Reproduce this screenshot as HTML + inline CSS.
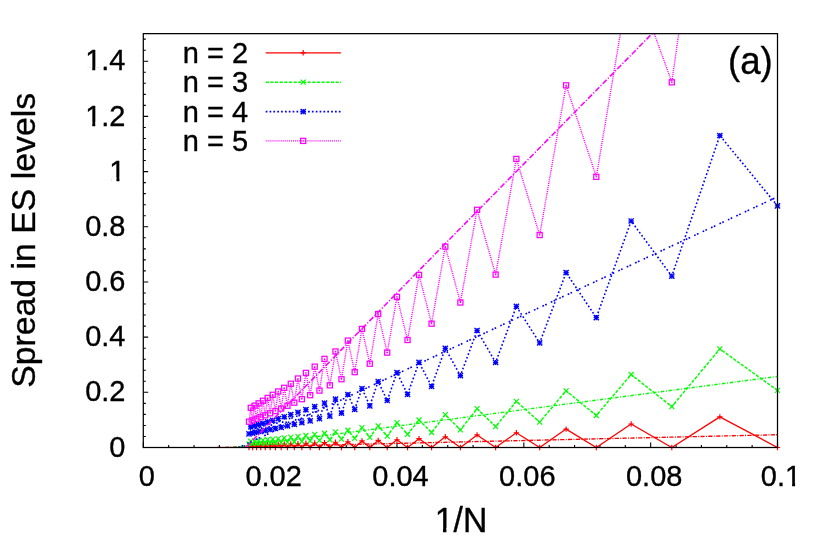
<!DOCTYPE html>
<html><head><meta charset="utf-8"><title>Spread in ES levels</title>
<style>html,body{margin:0;padding:0;background:#fff;}svg{display:block;will-change:transform;}text{font-family:"Liberation Sans",sans-serif;fill:#000;stroke:#000;stroke-width:0.35px;stroke-linejoin:round;}</style>
</head><body>
<svg width="830" height="541" viewBox="0 0 830 541">
<rect x="0" y="0" width="830" height="541" fill="#fff"/>
<defs><clipPath id="pc"><rect x="143.30" y="33.65" width="634.20" height="413.85"/></clipPath></defs>
<path d="M143.30 447.50h4.9M143.30 436.46h2.5M143.30 425.43h2.5M143.30 414.39h2.5M143.30 403.36h2.5M143.30 392.32h4.9M143.30 381.28h2.5M143.30 370.25h2.5M143.30 359.21h2.5M143.30 348.18h2.5M143.30 337.14h4.9M143.30 326.10h2.5M143.30 315.07h2.5M143.30 304.03h2.5M143.30 293.00h2.5M143.30 281.96h4.9M143.30 270.92h2.5M143.30 259.89h2.5M143.30 248.85h2.5M143.30 237.82h2.5M143.30 226.78h4.9M143.30 215.74h2.5M143.30 204.71h2.5M143.30 193.67h2.5M143.30 182.64h2.5M143.30 171.60h4.9M143.30 160.56h2.5M143.30 149.53h2.5M143.30 138.49h2.5M143.30 127.46h2.5M143.30 116.42h4.9M143.30 105.38h2.5M143.30 94.35h2.5M143.30 83.31h2.5M143.30 72.28h2.5M143.30 61.24h4.9M143.30 50.20h2.5M143.30 39.17h2.5M143.30 447.50v-4.9M168.67 447.50v-2.5M194.04 447.50v-2.5M219.40 447.50v-2.5M244.77 447.50v-2.5M270.14 447.50v-4.9M295.51 447.50v-2.5M320.88 447.50v-2.5M346.24 447.50v-2.5M371.61 447.50v-2.5M396.98 447.50v-4.9M422.35 447.50v-2.5M447.72 447.50v-2.5M473.08 447.50v-2.5M498.45 447.50v-2.5M523.82 447.50v-4.9M549.19 447.50v-2.5M574.56 447.50v-2.5M599.92 447.50v-2.5M625.29 447.50v-2.5M650.66 447.50v-4.9M676.03 447.50v-2.5M701.40 447.50v-2.5M726.76 447.50v-2.5M752.13 447.50v-2.5M777.50 447.50v-4.9" stroke="#000" stroke-width="1.1" fill="none"/>
<g clip-path="url(#pc)" fill="none" stroke-linejoin="round">
<polyline points="777.50,447.50 719.85,416.83 671.80,447.50 631.15,424.03 596.30,447.50 566.10,429.08 539.67,447.50 516.36,432.77 495.63,447.50 477.09,434.92 460.40,447.50 445.30,436.71 431.57,447.50 419.04,438.67 407.55,447.50 396.98,439.77 387.22,447.50 378.19,440.43 369.80,447.50 361.99,440.90 354.70,447.50 347.88,441.79 341.49,447.50 335.48,442.25 329.83,447.50 324.50,442.66 319.47,447.50 314.71,443.01 310.19,447.50 305.92,443.32 301.85,447.50 297.98,443.60 294.30,447.50 290.79,443.84 287.44,447.50 284.23,444.06 281.17,447.50 278.24,444.26 275.43,447.50 272.73,444.44 270.14,447.50 267.65,444.60 265.26,447.50 262.96,444.75 260.74,447.50 258.61,444.88 256.55,447.50 254.56,445.01 252.64,447.50 250.79,445.12 249.00,447.50" stroke="#ff0000" stroke-width="1.3"/>
<polyline points="777.50,390.42 719.85,348.90 671.80,406.61 631.15,374.51 596.30,415.48 566.10,390.81 539.67,422.10 516.36,401.31 495.63,426.57 477.09,408.70 460.40,429.85 445.30,414.66 431.57,432.49 419.04,420.03 407.55,434.23 396.98,422.71 387.22,436.05 378.19,425.82 369.80,437.32 361.99,427.59 354.70,438.42 347.88,430.23 341.49,439.09 335.48,431.86 329.83,439.77 324.50,433.25 319.47,440.37 314.71,434.45 310.19,440.89 305.92,435.49 301.85,441.35 297.98,436.41 294.30,441.76 290.79,437.21 287.44,442.12 284.23,437.92 281.17,442.44 278.24,438.56 275.43,442.74 272.73,439.13 270.14,443.00 267.65,439.64 265.26,443.24 262.96,440.11 260.74,443.46 258.61,440.53 256.55,443.66 254.56,440.91 252.64,443.85 250.79,441.26 249.00,444.02" stroke="#00ff00" stroke-width="1.5" stroke-dasharray="3.2 1.45"/>
<polyline points="777.50,205.81 719.85,135.51 671.80,276.12 631.15,220.98 596.30,317.69 566.10,272.62 539.67,342.89 516.36,306.39 495.63,362.49 477.09,330.49 460.40,375.70 445.30,348.35 431.57,386.31 419.04,362.41 407.55,394.31 396.98,372.61 387.22,400.51 378.19,381.49 369.80,405.81 361.99,388.49 354.70,409.39 347.88,394.50 341.49,413.20 335.48,399.13 329.83,416.11 324.50,403.11 319.47,418.62 314.71,406.57 310.19,420.82 305.92,409.59 301.85,422.75 297.98,412.26 294.30,424.45 290.79,414.63 287.44,425.97 284.23,416.74 281.17,427.32 278.24,418.63 275.43,428.54 272.73,420.34 270.14,429.64 267.65,421.88 265.26,430.63 262.96,423.28 260.74,431.54 258.61,424.55 256.55,432.37 254.56,425.72 252.64,433.12 250.79,426.79 249.00,433.82" stroke="#0000ff" stroke-width="1.6" stroke-dasharray="1.7 2.15"/>
<polyline points="777.50,-54.36 719.85,-256.54 671.80,82.30 631.15,-30.46 596.30,176.86 566.10,85.33 539.67,235.04 516.36,158.94 495.63,274.60 477.09,209.81 460.40,302.50 445.30,246.62 431.57,323.70 419.04,274.90 407.55,340.00 396.98,296.90 387.22,352.62 378.19,314.00 369.80,363.71 361.99,328.91 354.70,372.12 347.88,340.60 341.49,379.23 335.48,351.49 329.83,385.34 324.50,358.88 319.47,390.60 314.71,366.66 310.19,395.17 305.92,372.90 301.85,399.16 297.98,378.52 294.30,402.68 290.79,383.79 287.44,405.79 284.23,387.80 281.17,408.56 278.24,391.48 275.43,411.04 272.73,394.80 270.14,413.27 267.65,397.95 265.26,415.29 262.96,400.79 260.74,417.12 258.61,403.34 256.55,418.78 254.56,405.66 252.64,420.30 250.79,407.79 249.00,421.69" stroke="#ff00ff" stroke-width="1.4" stroke-dasharray="1.0 0.95"/>
</g>
<g><path d="M774.80 447.50H780.20M777.50 444.80V450.20" stroke="#ff0000" stroke-width="1.15" fill="none"/><path d="M717.15 416.83H722.55M719.85 414.13V419.53" stroke="#ff0000" stroke-width="1.15" fill="none"/><path d="M669.10 447.50H674.50M671.80 444.80V450.20" stroke="#ff0000" stroke-width="1.15" fill="none"/><path d="M628.45 424.03H633.85M631.15 421.33V426.73" stroke="#ff0000" stroke-width="1.15" fill="none"/><path d="M593.60 447.50H599.00M596.30 444.80V450.20" stroke="#ff0000" stroke-width="1.15" fill="none"/><path d="M563.40 429.08H568.80M566.10 426.38V431.78" stroke="#ff0000" stroke-width="1.15" fill="none"/><path d="M536.97 447.50H542.38M539.67 444.80V450.20" stroke="#ff0000" stroke-width="1.15" fill="none"/><path d="M513.66 432.77H519.06M516.36 430.07V435.47" stroke="#ff0000" stroke-width="1.15" fill="none"/><path d="M492.93 447.50H498.33M495.63 444.80V450.20" stroke="#ff0000" stroke-width="1.15" fill="none"/><path d="M474.39 434.92H479.79M477.09 432.22V437.62" stroke="#ff0000" stroke-width="1.15" fill="none"/><path d="M457.70 447.50H463.10M460.40 444.80V450.20" stroke="#ff0000" stroke-width="1.15" fill="none"/><path d="M442.60 436.71H448.00M445.30 434.01V439.41" stroke="#ff0000" stroke-width="1.15" fill="none"/><path d="M428.87 447.50H434.27M431.57 444.80V450.20" stroke="#ff0000" stroke-width="1.15" fill="none"/><path d="M416.34 438.67H421.74M419.04 435.97V441.37" stroke="#ff0000" stroke-width="1.15" fill="none"/><path d="M404.85 447.50H410.25M407.55 444.80V450.20" stroke="#ff0000" stroke-width="1.15" fill="none"/><path d="M394.28 439.77H399.68M396.98 437.07V442.47" stroke="#ff0000" stroke-width="1.15" fill="none"/><path d="M384.52 447.50H389.92M387.22 444.80V450.20" stroke="#ff0000" stroke-width="1.15" fill="none"/><path d="M375.49 440.43H380.89M378.19 437.73V443.13" stroke="#ff0000" stroke-width="1.15" fill="none"/><path d="M367.10 447.50H372.50M369.80 444.80V450.20" stroke="#ff0000" stroke-width="1.15" fill="none"/><path d="M359.29 440.90H364.69M361.99 438.20V443.60" stroke="#ff0000" stroke-width="1.15" fill="none"/><path d="M352.00 447.50H357.40M354.70 444.80V450.20" stroke="#ff0000" stroke-width="1.15" fill="none"/><path d="M345.18 441.79H350.58M347.88 439.09V444.49" stroke="#ff0000" stroke-width="1.15" fill="none"/><path d="M338.79 447.50H344.19M341.49 444.80V450.20" stroke="#ff0000" stroke-width="1.15" fill="none"/><path d="M332.78 442.25H338.18M335.48 439.55V444.95" stroke="#ff0000" stroke-width="1.15" fill="none"/><path d="M327.13 447.50H332.53M329.83 444.80V450.20" stroke="#ff0000" stroke-width="1.15" fill="none"/><path d="M321.80 442.66H327.20M324.50 439.96V445.36" stroke="#ff0000" stroke-width="1.15" fill="none"/><path d="M316.77 447.50H322.17M319.47 444.80V450.20" stroke="#ff0000" stroke-width="1.15" fill="none"/><path d="M312.01 443.01H317.41M314.71 440.31V445.71" stroke="#ff0000" stroke-width="1.15" fill="none"/><path d="M307.49 447.50H312.89M310.19 444.80V450.20" stroke="#ff0000" stroke-width="1.15" fill="none"/><path d="M303.22 443.32H308.62M305.92 440.62V446.02" stroke="#ff0000" stroke-width="1.15" fill="none"/><path d="M299.15 447.50H304.55M301.85 444.80V450.20" stroke="#ff0000" stroke-width="1.15" fill="none"/><path d="M295.28 443.60H300.68M297.98 440.90V446.30" stroke="#ff0000" stroke-width="1.15" fill="none"/><path d="M291.60 447.50H297.00M294.30 444.80V450.20" stroke="#ff0000" stroke-width="1.15" fill="none"/><path d="M288.09 443.84H293.49M290.79 441.14V446.54" stroke="#ff0000" stroke-width="1.15" fill="none"/><path d="M284.74 447.50H290.14M287.44 444.80V450.20" stroke="#ff0000" stroke-width="1.15" fill="none"/><path d="M281.53 444.06H286.93M284.23 441.36V446.76" stroke="#ff0000" stroke-width="1.15" fill="none"/><path d="M278.47 447.50H283.87M281.17 444.80V450.20" stroke="#ff0000" stroke-width="1.15" fill="none"/><path d="M275.54 444.26H280.94M278.24 441.56V446.96" stroke="#ff0000" stroke-width="1.15" fill="none"/><path d="M272.73 447.50H278.12M275.43 444.80V450.20" stroke="#ff0000" stroke-width="1.15" fill="none"/><path d="M270.03 444.44H275.43M272.73 441.74V447.14" stroke="#ff0000" stroke-width="1.15" fill="none"/><path d="M267.44 447.50H272.84M270.14 444.80V450.20" stroke="#ff0000" stroke-width="1.15" fill="none"/><path d="M264.95 444.60H270.35M267.65 441.90V447.30" stroke="#ff0000" stroke-width="1.15" fill="none"/><path d="M262.56 447.50H267.96M265.26 444.80V450.20" stroke="#ff0000" stroke-width="1.15" fill="none"/><path d="M260.26 444.75H265.66M262.96 442.05V447.45" stroke="#ff0000" stroke-width="1.15" fill="none"/><path d="M258.04 447.50H263.44M260.74 444.80V450.20" stroke="#ff0000" stroke-width="1.15" fill="none"/><path d="M255.91 444.88H261.31M258.61 442.18V447.58" stroke="#ff0000" stroke-width="1.15" fill="none"/><path d="M253.85 447.50H259.25M256.55 444.80V450.20" stroke="#ff0000" stroke-width="1.15" fill="none"/><path d="M251.86 445.01H257.26M254.56 442.31V447.71" stroke="#ff0000" stroke-width="1.15" fill="none"/><path d="M249.94 447.50H255.34M252.64 444.80V450.20" stroke="#ff0000" stroke-width="1.15" fill="none"/><path d="M248.09 445.12H253.49M250.79 442.42V447.82" stroke="#ff0000" stroke-width="1.15" fill="none"/><path d="M246.30 447.50H251.70M249.00 444.80V450.20" stroke="#ff0000" stroke-width="1.15" fill="none"/></g>
<g><path d="M775.00 387.92L780.00 392.92M775.00 392.92L780.00 387.92" stroke="#00ff00" stroke-width="1.15" fill="none"/><path d="M717.35 346.40L722.35 351.40M717.35 351.40L722.35 346.40" stroke="#00ff00" stroke-width="1.15" fill="none"/><path d="M669.30 404.11L674.30 409.11M669.30 409.11L674.30 404.11" stroke="#00ff00" stroke-width="1.15" fill="none"/><path d="M628.65 372.01L633.65 377.01M628.65 377.01L633.65 372.01" stroke="#00ff00" stroke-width="1.15" fill="none"/><path d="M593.80 412.98L598.80 417.98M593.80 417.98L598.80 412.98" stroke="#00ff00" stroke-width="1.15" fill="none"/><path d="M563.60 388.31L568.60 393.31M563.60 393.31L568.60 388.31" stroke="#00ff00" stroke-width="1.15" fill="none"/><path d="M537.17 419.60L542.17 424.60M537.17 424.60L542.17 419.60" stroke="#00ff00" stroke-width="1.15" fill="none"/><path d="M513.86 398.81L518.86 403.81M513.86 403.81L518.86 398.81" stroke="#00ff00" stroke-width="1.15" fill="none"/><path d="M493.13 424.07L498.13 429.07M493.13 429.07L498.13 424.07" stroke="#00ff00" stroke-width="1.15" fill="none"/><path d="M474.59 406.20L479.59 411.20M474.59 411.20L479.59 406.20" stroke="#00ff00" stroke-width="1.15" fill="none"/><path d="M457.90 427.35L462.90 432.35M457.90 432.35L462.90 427.35" stroke="#00ff00" stroke-width="1.15" fill="none"/><path d="M442.80 412.16L447.80 417.16M442.80 417.16L447.80 412.16" stroke="#00ff00" stroke-width="1.15" fill="none"/><path d="M429.07 429.99L434.07 434.99M429.07 434.99L434.07 429.99" stroke="#00ff00" stroke-width="1.15" fill="none"/><path d="M416.54 417.53L421.54 422.53M416.54 422.53L421.54 417.53" stroke="#00ff00" stroke-width="1.15" fill="none"/><path d="M405.05 431.73L410.05 436.73M405.05 436.73L410.05 431.73" stroke="#00ff00" stroke-width="1.15" fill="none"/><path d="M394.48 420.21L399.48 425.21M394.48 425.21L399.48 420.21" stroke="#00ff00" stroke-width="1.15" fill="none"/><path d="M384.72 433.55L389.72 438.55M384.72 438.55L389.72 433.55" stroke="#00ff00" stroke-width="1.15" fill="none"/><path d="M375.69 423.32L380.69 428.32M375.69 428.32L380.69 423.32" stroke="#00ff00" stroke-width="1.15" fill="none"/><path d="M367.30 434.82L372.30 439.82M367.30 439.82L372.30 434.82" stroke="#00ff00" stroke-width="1.15" fill="none"/><path d="M359.49 425.09L364.49 430.09M359.49 430.09L364.49 425.09" stroke="#00ff00" stroke-width="1.15" fill="none"/><path d="M352.20 435.92L357.20 440.92M352.20 440.92L357.20 435.92" stroke="#00ff00" stroke-width="1.15" fill="none"/><path d="M345.38 427.73L350.38 432.73M345.38 432.73L350.38 427.73" stroke="#00ff00" stroke-width="1.15" fill="none"/><path d="M338.99 436.59L343.99 441.59M338.99 441.59L343.99 436.59" stroke="#00ff00" stroke-width="1.15" fill="none"/><path d="M332.98 429.36L337.98 434.36M332.98 434.36L337.98 429.36" stroke="#00ff00" stroke-width="1.15" fill="none"/><path d="M327.33 437.27L332.33 442.27M327.33 442.27L332.33 437.27" stroke="#00ff00" stroke-width="1.15" fill="none"/><path d="M322.00 430.75L327.00 435.75M322.00 435.75L327.00 430.75" stroke="#00ff00" stroke-width="1.15" fill="none"/><path d="M316.97 437.87L321.97 442.87M316.97 442.87L321.97 437.87" stroke="#00ff00" stroke-width="1.15" fill="none"/><path d="M312.21 431.95L317.21 436.95M312.21 436.95L317.21 431.95" stroke="#00ff00" stroke-width="1.15" fill="none"/><path d="M307.69 438.39L312.69 443.39M307.69 443.39L312.69 438.39" stroke="#00ff00" stroke-width="1.15" fill="none"/><path d="M303.42 432.99L308.42 437.99M303.42 437.99L308.42 432.99" stroke="#00ff00" stroke-width="1.15" fill="none"/><path d="M299.35 438.85L304.35 443.85M299.35 443.85L304.35 438.85" stroke="#00ff00" stroke-width="1.15" fill="none"/><path d="M295.48 433.91L300.48 438.91M295.48 438.91L300.48 433.91" stroke="#00ff00" stroke-width="1.15" fill="none"/><path d="M291.80 439.26L296.80 444.26M291.80 444.26L296.80 439.26" stroke="#00ff00" stroke-width="1.15" fill="none"/><path d="M288.29 434.71L293.29 439.71M288.29 439.71L293.29 434.71" stroke="#00ff00" stroke-width="1.15" fill="none"/><path d="M284.94 439.62L289.94 444.62M284.94 444.62L289.94 439.62" stroke="#00ff00" stroke-width="1.15" fill="none"/><path d="M281.73 435.42L286.73 440.42M281.73 440.42L286.73 435.42" stroke="#00ff00" stroke-width="1.15" fill="none"/><path d="M278.67 439.94L283.67 444.94M278.67 444.94L283.67 439.94" stroke="#00ff00" stroke-width="1.15" fill="none"/><path d="M275.74 436.06L280.74 441.06M275.74 441.06L280.74 436.06" stroke="#00ff00" stroke-width="1.15" fill="none"/><path d="M272.93 440.24L277.93 445.24M272.93 445.24L277.93 440.24" stroke="#00ff00" stroke-width="1.15" fill="none"/><path d="M270.23 436.63L275.23 441.63M270.23 441.63L275.23 436.63" stroke="#00ff00" stroke-width="1.15" fill="none"/><path d="M267.64 440.50L272.64 445.50M267.64 445.50L272.64 440.50" stroke="#00ff00" stroke-width="1.15" fill="none"/><path d="M265.15 437.14L270.15 442.14M265.15 442.14L270.15 437.14" stroke="#00ff00" stroke-width="1.15" fill="none"/><path d="M262.76 440.74L267.76 445.74M262.76 445.74L267.76 440.74" stroke="#00ff00" stroke-width="1.15" fill="none"/><path d="M260.46 437.61L265.46 442.61M260.46 442.61L265.46 437.61" stroke="#00ff00" stroke-width="1.15" fill="none"/><path d="M258.24 440.96L263.24 445.96M258.24 445.96L263.24 440.96" stroke="#00ff00" stroke-width="1.15" fill="none"/><path d="M256.11 438.03L261.11 443.03M256.11 443.03L261.11 438.03" stroke="#00ff00" stroke-width="1.15" fill="none"/><path d="M254.05 441.16L259.05 446.16M254.05 446.16L259.05 441.16" stroke="#00ff00" stroke-width="1.15" fill="none"/><path d="M252.06 438.41L257.06 443.41M252.06 443.41L257.06 438.41" stroke="#00ff00" stroke-width="1.15" fill="none"/><path d="M250.14 441.35L255.14 446.35M250.14 446.35L255.14 441.35" stroke="#00ff00" stroke-width="1.15" fill="none"/><path d="M248.29 438.76L253.29 443.76M248.29 443.76L253.29 438.76" stroke="#00ff00" stroke-width="1.15" fill="none"/><path d="M246.50 441.52L251.50 446.52M246.50 446.52L251.50 441.52" stroke="#00ff00" stroke-width="1.15" fill="none"/></g>
<g><path d="M774.90 205.81H780.10M777.50 203.21V208.41" stroke="#0000ff" stroke-width="1.35" fill="none"/><path d="M774.90 203.21L780.10 208.41M774.90 208.41L780.10 203.21" stroke="#0000ff" stroke-width="1.35" fill="none"/><path d="M717.25 135.51H722.45M719.85 132.91V138.11" stroke="#0000ff" stroke-width="1.35" fill="none"/><path d="M717.25 132.91L722.45 138.11M717.25 138.11L722.45 132.91" stroke="#0000ff" stroke-width="1.35" fill="none"/><path d="M669.20 276.12H674.40M671.80 273.52V278.72" stroke="#0000ff" stroke-width="1.35" fill="none"/><path d="M669.20 273.52L674.40 278.72M669.20 278.72L674.40 273.52" stroke="#0000ff" stroke-width="1.35" fill="none"/><path d="M628.55 220.98H633.75M631.15 218.38V223.58" stroke="#0000ff" stroke-width="1.35" fill="none"/><path d="M628.55 218.38L633.75 223.58M628.55 223.58L633.75 218.38" stroke="#0000ff" stroke-width="1.35" fill="none"/><path d="M593.70 317.69H598.90M596.30 315.09V320.29" stroke="#0000ff" stroke-width="1.35" fill="none"/><path d="M593.70 315.09L598.90 320.29M593.70 320.29L598.90 315.09" stroke="#0000ff" stroke-width="1.35" fill="none"/><path d="M563.50 272.62H568.70M566.10 270.02V275.22" stroke="#0000ff" stroke-width="1.35" fill="none"/><path d="M563.50 270.02L568.70 275.22M563.50 275.22L568.70 270.02" stroke="#0000ff" stroke-width="1.35" fill="none"/><path d="M537.07 342.89H542.27M539.67 340.29V345.49" stroke="#0000ff" stroke-width="1.35" fill="none"/><path d="M537.07 340.29L542.27 345.49M537.07 345.49L542.27 340.29" stroke="#0000ff" stroke-width="1.35" fill="none"/><path d="M513.76 306.39H518.96M516.36 303.79V308.99" stroke="#0000ff" stroke-width="1.35" fill="none"/><path d="M513.76 303.79L518.96 308.99M513.76 308.99L518.96 303.79" stroke="#0000ff" stroke-width="1.35" fill="none"/><path d="M493.03 362.49H498.23M495.63 359.89V365.09" stroke="#0000ff" stroke-width="1.35" fill="none"/><path d="M493.03 359.89L498.23 365.09M493.03 365.09L498.23 359.89" stroke="#0000ff" stroke-width="1.35" fill="none"/><path d="M474.49 330.49H479.69M477.09 327.89V333.09" stroke="#0000ff" stroke-width="1.35" fill="none"/><path d="M474.49 327.89L479.69 333.09M474.49 333.09L479.69 327.89" stroke="#0000ff" stroke-width="1.35" fill="none"/><path d="M457.80 375.70H463.00M460.40 373.10V378.30" stroke="#0000ff" stroke-width="1.35" fill="none"/><path d="M457.80 373.10L463.00 378.30M457.80 378.30L463.00 373.10" stroke="#0000ff" stroke-width="1.35" fill="none"/><path d="M442.70 348.35H447.90M445.30 345.75V350.95" stroke="#0000ff" stroke-width="1.35" fill="none"/><path d="M442.70 345.75L447.90 350.95M442.70 350.95L447.90 345.75" stroke="#0000ff" stroke-width="1.35" fill="none"/><path d="M428.97 386.31H434.17M431.57 383.71V388.91" stroke="#0000ff" stroke-width="1.35" fill="none"/><path d="M428.97 383.71L434.17 388.91M428.97 388.91L434.17 383.71" stroke="#0000ff" stroke-width="1.35" fill="none"/><path d="M416.44 362.41H421.64M419.04 359.81V365.01" stroke="#0000ff" stroke-width="1.35" fill="none"/><path d="M416.44 359.81L421.64 365.01M416.44 365.01L421.64 359.81" stroke="#0000ff" stroke-width="1.35" fill="none"/><path d="M404.95 394.31H410.15M407.55 391.71V396.91" stroke="#0000ff" stroke-width="1.35" fill="none"/><path d="M404.95 391.71L410.15 396.91M404.95 396.91L410.15 391.71" stroke="#0000ff" stroke-width="1.35" fill="none"/><path d="M394.38 372.61H399.58M396.98 370.01V375.21" stroke="#0000ff" stroke-width="1.35" fill="none"/><path d="M394.38 370.01L399.58 375.21M394.38 375.21L399.58 370.01" stroke="#0000ff" stroke-width="1.35" fill="none"/><path d="M384.62 400.51H389.82M387.22 397.91V403.11" stroke="#0000ff" stroke-width="1.35" fill="none"/><path d="M384.62 397.91L389.82 403.11M384.62 403.11L389.82 397.91" stroke="#0000ff" stroke-width="1.35" fill="none"/><path d="M375.59 381.49H380.79M378.19 378.89V384.09" stroke="#0000ff" stroke-width="1.35" fill="none"/><path d="M375.59 378.89L380.79 384.09M375.59 384.09L380.79 378.89" stroke="#0000ff" stroke-width="1.35" fill="none"/><path d="M367.20 405.81H372.40M369.80 403.21V408.41" stroke="#0000ff" stroke-width="1.35" fill="none"/><path d="M367.20 403.21L372.40 408.41M367.20 408.41L372.40 403.21" stroke="#0000ff" stroke-width="1.35" fill="none"/><path d="M359.39 388.49H364.59M361.99 385.89V391.09" stroke="#0000ff" stroke-width="1.35" fill="none"/><path d="M359.39 385.89L364.59 391.09M359.39 391.09L364.59 385.89" stroke="#0000ff" stroke-width="1.35" fill="none"/><path d="M352.10 409.39H357.30M354.70 406.79V411.99" stroke="#0000ff" stroke-width="1.35" fill="none"/><path d="M352.10 406.79L357.30 411.99M352.10 411.99L357.30 406.79" stroke="#0000ff" stroke-width="1.35" fill="none"/><path d="M345.28 394.50H350.48M347.88 391.90V397.10" stroke="#0000ff" stroke-width="1.35" fill="none"/><path d="M345.28 391.90L350.48 397.10M345.28 397.10L350.48 391.90" stroke="#0000ff" stroke-width="1.35" fill="none"/><path d="M338.89 413.20H344.09M341.49 410.60V415.80" stroke="#0000ff" stroke-width="1.35" fill="none"/><path d="M338.89 410.60L344.09 415.80M338.89 415.80L344.09 410.60" stroke="#0000ff" stroke-width="1.35" fill="none"/><path d="M332.88 399.13H338.08M335.48 396.53V401.73" stroke="#0000ff" stroke-width="1.35" fill="none"/><path d="M332.88 396.53L338.08 401.73M332.88 401.73L338.08 396.53" stroke="#0000ff" stroke-width="1.35" fill="none"/><path d="M327.23 416.11H332.43M329.83 413.51V418.71" stroke="#0000ff" stroke-width="1.35" fill="none"/><path d="M327.23 413.51L332.43 418.71M327.23 418.71L332.43 413.51" stroke="#0000ff" stroke-width="1.35" fill="none"/><path d="M321.90 403.11H327.10M324.50 400.51V405.71" stroke="#0000ff" stroke-width="1.35" fill="none"/><path d="M321.90 400.51L327.10 405.71M321.90 405.71L327.10 400.51" stroke="#0000ff" stroke-width="1.35" fill="none"/><path d="M316.87 418.62H322.07M319.47 416.02V421.22" stroke="#0000ff" stroke-width="1.35" fill="none"/><path d="M316.87 416.02L322.07 421.22M316.87 421.22L322.07 416.02" stroke="#0000ff" stroke-width="1.35" fill="none"/><path d="M312.11 406.57H317.31M314.71 403.97V409.17" stroke="#0000ff" stroke-width="1.35" fill="none"/><path d="M312.11 403.97L317.31 409.17M312.11 409.17L317.31 403.97" stroke="#0000ff" stroke-width="1.35" fill="none"/><path d="M307.59 420.82H312.79M310.19 418.22V423.42" stroke="#0000ff" stroke-width="1.35" fill="none"/><path d="M307.59 418.22L312.79 423.42M307.59 423.42L312.79 418.22" stroke="#0000ff" stroke-width="1.35" fill="none"/><path d="M303.32 409.59H308.52M305.92 406.99V412.19" stroke="#0000ff" stroke-width="1.35" fill="none"/><path d="M303.32 406.99L308.52 412.19M303.32 412.19L308.52 406.99" stroke="#0000ff" stroke-width="1.35" fill="none"/><path d="M299.25 422.75H304.45M301.85 420.15V425.35" stroke="#0000ff" stroke-width="1.35" fill="none"/><path d="M299.25 420.15L304.45 425.35M299.25 425.35L304.45 420.15" stroke="#0000ff" stroke-width="1.35" fill="none"/><path d="M295.38 412.26H300.58M297.98 409.66V414.86" stroke="#0000ff" stroke-width="1.35" fill="none"/><path d="M295.38 409.66L300.58 414.86M295.38 414.86L300.58 409.66" stroke="#0000ff" stroke-width="1.35" fill="none"/><path d="M291.70 424.45H296.90M294.30 421.85V427.05" stroke="#0000ff" stroke-width="1.35" fill="none"/><path d="M291.70 421.85L296.90 427.05M291.70 427.05L296.90 421.85" stroke="#0000ff" stroke-width="1.35" fill="none"/><path d="M288.19 414.63H293.39M290.79 412.03V417.23" stroke="#0000ff" stroke-width="1.35" fill="none"/><path d="M288.19 412.03L293.39 417.23M288.19 417.23L293.39 412.03" stroke="#0000ff" stroke-width="1.35" fill="none"/><path d="M284.84 425.97H290.04M287.44 423.37V428.57" stroke="#0000ff" stroke-width="1.35" fill="none"/><path d="M284.84 423.37L290.04 428.57M284.84 428.57L290.04 423.37" stroke="#0000ff" stroke-width="1.35" fill="none"/><path d="M281.63 416.74H286.83M284.23 414.14V419.34" stroke="#0000ff" stroke-width="1.35" fill="none"/><path d="M281.63 414.14L286.83 419.34M281.63 419.34L286.83 414.14" stroke="#0000ff" stroke-width="1.35" fill="none"/><path d="M278.57 427.32H283.77M281.17 424.72V429.92" stroke="#0000ff" stroke-width="1.35" fill="none"/><path d="M278.57 424.72L283.77 429.92M278.57 429.92L283.77 424.72" stroke="#0000ff" stroke-width="1.35" fill="none"/><path d="M275.64 418.63H280.84M278.24 416.03V421.23" stroke="#0000ff" stroke-width="1.35" fill="none"/><path d="M275.64 416.03L280.84 421.23M275.64 421.23L280.84 416.03" stroke="#0000ff" stroke-width="1.35" fill="none"/><path d="M272.82 428.54H278.03M275.43 425.94V431.14" stroke="#0000ff" stroke-width="1.35" fill="none"/><path d="M272.82 425.94L278.03 431.14M272.82 431.14L278.03 425.94" stroke="#0000ff" stroke-width="1.35" fill="none"/><path d="M270.13 420.34H275.33M272.73 417.74V422.94" stroke="#0000ff" stroke-width="1.35" fill="none"/><path d="M270.13 417.74L275.33 422.94M270.13 422.94L275.33 417.74" stroke="#0000ff" stroke-width="1.35" fill="none"/><path d="M267.54 429.64H272.74M270.14 427.04V432.24" stroke="#0000ff" stroke-width="1.35" fill="none"/><path d="M267.54 427.04L272.74 432.24M267.54 432.24L272.74 427.04" stroke="#0000ff" stroke-width="1.35" fill="none"/><path d="M265.05 421.88H270.25M267.65 419.28V424.48" stroke="#0000ff" stroke-width="1.35" fill="none"/><path d="M265.05 419.28L270.25 424.48M265.05 424.48L270.25 419.28" stroke="#0000ff" stroke-width="1.35" fill="none"/><path d="M262.66 430.63H267.86M265.26 428.03V433.23" stroke="#0000ff" stroke-width="1.35" fill="none"/><path d="M262.66 428.03L267.86 433.23M262.66 433.23L267.86 428.03" stroke="#0000ff" stroke-width="1.35" fill="none"/><path d="M260.36 423.28H265.56M262.96 420.68V425.88" stroke="#0000ff" stroke-width="1.35" fill="none"/><path d="M260.36 420.68L265.56 425.88M260.36 425.88L265.56 420.68" stroke="#0000ff" stroke-width="1.35" fill="none"/><path d="M258.14 431.54H263.34M260.74 428.94V434.14" stroke="#0000ff" stroke-width="1.35" fill="none"/><path d="M258.14 428.94L263.34 434.14M258.14 434.14L263.34 428.94" stroke="#0000ff" stroke-width="1.35" fill="none"/><path d="M256.01 424.55H261.21M258.61 421.95V427.15" stroke="#0000ff" stroke-width="1.35" fill="none"/><path d="M256.01 421.95L261.21 427.15M256.01 427.15L261.21 421.95" stroke="#0000ff" stroke-width="1.35" fill="none"/><path d="M253.95 432.37H259.15M256.55 429.77V434.97" stroke="#0000ff" stroke-width="1.35" fill="none"/><path d="M253.95 429.77L259.15 434.97M253.95 434.97L259.15 429.77" stroke="#0000ff" stroke-width="1.35" fill="none"/><path d="M251.96 425.72H257.16M254.56 423.12V428.32" stroke="#0000ff" stroke-width="1.35" fill="none"/><path d="M251.96 423.12L257.16 428.32M251.96 428.32L257.16 423.12" stroke="#0000ff" stroke-width="1.35" fill="none"/><path d="M250.04 433.12H255.24M252.64 430.52V435.72" stroke="#0000ff" stroke-width="1.35" fill="none"/><path d="M250.04 430.52L255.24 435.72M250.04 435.72L255.24 430.52" stroke="#0000ff" stroke-width="1.35" fill="none"/><path d="M248.19 426.79H253.39M250.79 424.19V429.39" stroke="#0000ff" stroke-width="1.35" fill="none"/><path d="M248.19 424.19L253.39 429.39M248.19 429.39L253.39 424.19" stroke="#0000ff" stroke-width="1.35" fill="none"/><path d="M246.40 433.82H251.60M249.00 431.22V436.42" stroke="#0000ff" stroke-width="1.35" fill="none"/><path d="M246.40 431.22L251.60 436.42M246.40 436.42L251.60 431.22" stroke="#0000ff" stroke-width="1.35" fill="none"/></g>
<g><rect x="669.25" y="79.75" width="5.10" height="5.10" stroke="#ff00ff" stroke-width="1.25" fill="none"/><rect x="671.20" y="81.70" width="1.2" height="1.2" fill="#ff00ff"/><rect x="593.75" y="174.31" width="5.10" height="5.10" stroke="#ff00ff" stroke-width="1.25" fill="none"/><rect x="595.70" y="176.26" width="1.2" height="1.2" fill="#ff00ff"/><rect x="563.55" y="82.78" width="5.10" height="5.10" stroke="#ff00ff" stroke-width="1.25" fill="none"/><rect x="565.50" y="84.73" width="1.2" height="1.2" fill="#ff00ff"/><rect x="537.12" y="232.49" width="5.10" height="5.10" stroke="#ff00ff" stroke-width="1.25" fill="none"/><rect x="539.07" y="234.44" width="1.2" height="1.2" fill="#ff00ff"/><rect x="513.81" y="156.39" width="5.10" height="5.10" stroke="#ff00ff" stroke-width="1.25" fill="none"/><rect x="515.76" y="158.34" width="1.2" height="1.2" fill="#ff00ff"/><rect x="493.08" y="272.05" width="5.10" height="5.10" stroke="#ff00ff" stroke-width="1.25" fill="none"/><rect x="495.03" y="274.00" width="1.2" height="1.2" fill="#ff00ff"/><rect x="474.54" y="207.26" width="5.10" height="5.10" stroke="#ff00ff" stroke-width="1.25" fill="none"/><rect x="476.49" y="209.21" width="1.2" height="1.2" fill="#ff00ff"/><rect x="457.85" y="299.95" width="5.10" height="5.10" stroke="#ff00ff" stroke-width="1.25" fill="none"/><rect x="459.80" y="301.90" width="1.2" height="1.2" fill="#ff00ff"/><rect x="442.75" y="244.07" width="5.10" height="5.10" stroke="#ff00ff" stroke-width="1.25" fill="none"/><rect x="444.70" y="246.02" width="1.2" height="1.2" fill="#ff00ff"/><rect x="429.02" y="321.15" width="5.10" height="5.10" stroke="#ff00ff" stroke-width="1.25" fill="none"/><rect x="430.97" y="323.10" width="1.2" height="1.2" fill="#ff00ff"/><rect x="416.49" y="272.35" width="5.10" height="5.10" stroke="#ff00ff" stroke-width="1.25" fill="none"/><rect x="418.44" y="274.30" width="1.2" height="1.2" fill="#ff00ff"/><rect x="405.00" y="337.45" width="5.10" height="5.10" stroke="#ff00ff" stroke-width="1.25" fill="none"/><rect x="406.95" y="339.40" width="1.2" height="1.2" fill="#ff00ff"/><rect x="394.43" y="294.35" width="5.10" height="5.10" stroke="#ff00ff" stroke-width="1.25" fill="none"/><rect x="396.38" y="296.30" width="1.2" height="1.2" fill="#ff00ff"/><rect x="384.67" y="350.07" width="5.10" height="5.10" stroke="#ff00ff" stroke-width="1.25" fill="none"/><rect x="386.62" y="352.02" width="1.2" height="1.2" fill="#ff00ff"/><rect x="375.64" y="311.45" width="5.10" height="5.10" stroke="#ff00ff" stroke-width="1.25" fill="none"/><rect x="377.59" y="313.40" width="1.2" height="1.2" fill="#ff00ff"/><rect x="367.25" y="361.16" width="5.10" height="5.10" stroke="#ff00ff" stroke-width="1.25" fill="none"/><rect x="369.20" y="363.11" width="1.2" height="1.2" fill="#ff00ff"/><rect x="359.44" y="326.36" width="5.10" height="5.10" stroke="#ff00ff" stroke-width="1.25" fill="none"/><rect x="361.39" y="328.31" width="1.2" height="1.2" fill="#ff00ff"/><rect x="352.15" y="369.57" width="5.10" height="5.10" stroke="#ff00ff" stroke-width="1.25" fill="none"/><rect x="354.10" y="371.52" width="1.2" height="1.2" fill="#ff00ff"/><rect x="345.33" y="338.05" width="5.10" height="5.10" stroke="#ff00ff" stroke-width="1.25" fill="none"/><rect x="347.28" y="340.00" width="1.2" height="1.2" fill="#ff00ff"/><rect x="338.94" y="376.68" width="5.10" height="5.10" stroke="#ff00ff" stroke-width="1.25" fill="none"/><rect x="340.89" y="378.63" width="1.2" height="1.2" fill="#ff00ff"/><rect x="332.93" y="348.94" width="5.10" height="5.10" stroke="#ff00ff" stroke-width="1.25" fill="none"/><rect x="334.88" y="350.89" width="1.2" height="1.2" fill="#ff00ff"/><rect x="327.28" y="382.79" width="5.10" height="5.10" stroke="#ff00ff" stroke-width="1.25" fill="none"/><rect x="329.23" y="384.74" width="1.2" height="1.2" fill="#ff00ff"/><rect x="321.95" y="356.33" width="5.10" height="5.10" stroke="#ff00ff" stroke-width="1.25" fill="none"/><rect x="323.90" y="358.28" width="1.2" height="1.2" fill="#ff00ff"/><rect x="316.92" y="388.05" width="5.10" height="5.10" stroke="#ff00ff" stroke-width="1.25" fill="none"/><rect x="318.87" y="390.00" width="1.2" height="1.2" fill="#ff00ff"/><rect x="312.16" y="364.11" width="5.10" height="5.10" stroke="#ff00ff" stroke-width="1.25" fill="none"/><rect x="314.11" y="366.06" width="1.2" height="1.2" fill="#ff00ff"/><rect x="307.64" y="392.62" width="5.10" height="5.10" stroke="#ff00ff" stroke-width="1.25" fill="none"/><rect x="309.59" y="394.57" width="1.2" height="1.2" fill="#ff00ff"/><rect x="303.37" y="370.35" width="5.10" height="5.10" stroke="#ff00ff" stroke-width="1.25" fill="none"/><rect x="305.32" y="372.30" width="1.2" height="1.2" fill="#ff00ff"/><rect x="299.30" y="396.61" width="5.10" height="5.10" stroke="#ff00ff" stroke-width="1.25" fill="none"/><rect x="301.25" y="398.56" width="1.2" height="1.2" fill="#ff00ff"/><rect x="295.43" y="375.97" width="5.10" height="5.10" stroke="#ff00ff" stroke-width="1.25" fill="none"/><rect x="297.38" y="377.92" width="1.2" height="1.2" fill="#ff00ff"/><rect x="291.75" y="400.13" width="5.10" height="5.10" stroke="#ff00ff" stroke-width="1.25" fill="none"/><rect x="293.70" y="402.08" width="1.2" height="1.2" fill="#ff00ff"/><rect x="288.24" y="381.24" width="5.10" height="5.10" stroke="#ff00ff" stroke-width="1.25" fill="none"/><rect x="290.19" y="383.19" width="1.2" height="1.2" fill="#ff00ff"/><rect x="284.89" y="403.24" width="5.10" height="5.10" stroke="#ff00ff" stroke-width="1.25" fill="none"/><rect x="286.84" y="405.19" width="1.2" height="1.2" fill="#ff00ff"/><rect x="281.68" y="385.25" width="5.10" height="5.10" stroke="#ff00ff" stroke-width="1.25" fill="none"/><rect x="283.63" y="387.20" width="1.2" height="1.2" fill="#ff00ff"/><rect x="278.62" y="406.01" width="5.10" height="5.10" stroke="#ff00ff" stroke-width="1.25" fill="none"/><rect x="280.57" y="407.96" width="1.2" height="1.2" fill="#ff00ff"/><rect x="275.69" y="388.93" width="5.10" height="5.10" stroke="#ff00ff" stroke-width="1.25" fill="none"/><rect x="277.64" y="390.88" width="1.2" height="1.2" fill="#ff00ff"/><rect x="272.88" y="408.49" width="5.10" height="5.10" stroke="#ff00ff" stroke-width="1.25" fill="none"/><rect x="274.82" y="410.44" width="1.2" height="1.2" fill="#ff00ff"/><rect x="270.18" y="392.25" width="5.10" height="5.10" stroke="#ff00ff" stroke-width="1.25" fill="none"/><rect x="272.13" y="394.20" width="1.2" height="1.2" fill="#ff00ff"/><rect x="267.59" y="410.72" width="5.10" height="5.10" stroke="#ff00ff" stroke-width="1.25" fill="none"/><rect x="269.54" y="412.67" width="1.2" height="1.2" fill="#ff00ff"/><rect x="265.10" y="395.40" width="5.10" height="5.10" stroke="#ff00ff" stroke-width="1.25" fill="none"/><rect x="267.05" y="397.35" width="1.2" height="1.2" fill="#ff00ff"/><rect x="262.71" y="412.74" width="5.10" height="5.10" stroke="#ff00ff" stroke-width="1.25" fill="none"/><rect x="264.66" y="414.69" width="1.2" height="1.2" fill="#ff00ff"/><rect x="260.41" y="398.24" width="5.10" height="5.10" stroke="#ff00ff" stroke-width="1.25" fill="none"/><rect x="262.36" y="400.19" width="1.2" height="1.2" fill="#ff00ff"/><rect x="258.19" y="414.57" width="5.10" height="5.10" stroke="#ff00ff" stroke-width="1.25" fill="none"/><rect x="260.14" y="416.52" width="1.2" height="1.2" fill="#ff00ff"/><rect x="256.06" y="400.79" width="5.10" height="5.10" stroke="#ff00ff" stroke-width="1.25" fill="none"/><rect x="258.01" y="402.74" width="1.2" height="1.2" fill="#ff00ff"/><rect x="254.00" y="416.23" width="5.10" height="5.10" stroke="#ff00ff" stroke-width="1.25" fill="none"/><rect x="255.95" y="418.18" width="1.2" height="1.2" fill="#ff00ff"/><rect x="252.01" y="403.11" width="5.10" height="5.10" stroke="#ff00ff" stroke-width="1.25" fill="none"/><rect x="253.96" y="405.06" width="1.2" height="1.2" fill="#ff00ff"/><rect x="250.09" y="417.75" width="5.10" height="5.10" stroke="#ff00ff" stroke-width="1.25" fill="none"/><rect x="252.04" y="419.70" width="1.2" height="1.2" fill="#ff00ff"/><rect x="248.24" y="405.24" width="5.10" height="5.10" stroke="#ff00ff" stroke-width="1.25" fill="none"/><rect x="250.19" y="407.19" width="1.2" height="1.2" fill="#ff00ff"/><rect x="246.45" y="419.14" width="5.10" height="5.10" stroke="#ff00ff" stroke-width="1.25" fill="none"/><rect x="248.40" y="421.09" width="1.2" height="1.2" fill="#ff00ff"/></g>
<g clip-path="url(#pc)" fill="none">
<polyline points="217.06,447.50 777.50,434.72" stroke="#ff0000" stroke-width="1.35" stroke-dasharray="4.2 1.3 1.0 1.3"/>
<polyline points="233.36,447.50 777.50,376.48" stroke="#00ff00" stroke-width="1.45" stroke-dasharray="3.3 1.75 0.9 1.75"/>
<polyline points="238.87,447.50 777.50,196.78" stroke="#0000ff" stroke-width="1.6" stroke-dasharray="1.7 1.4 1.7 4.5"/>
<polyline points="245.70,447.50 440.00,249.00 652.10,33.65 672.10,13.34" stroke="#ff00ff" stroke-width="1.55" stroke-dasharray="5.6 1.8 1.2 1.8"/>
</g>
<line x1="265.7" y1="52.8" x2="340.9" y2="52.8" stroke="#ff0000" stroke-width="1.3"/>
<path d="M300.50 52.80H305.90M303.20 50.10V55.50" stroke="#ff0000" stroke-width="1.15" fill="none"/>
<text transform="translate(248.1,62.80) scale(1,1.035)" font-size="29" text-anchor="end">n = 2</text>
<line x1="265.7" y1="82.2" x2="340.9" y2="82.2" stroke="#00ff00" stroke-width="1.5" stroke-dasharray="3.2 1.45"/>
<path d="M300.70 79.70L305.70 84.70M300.70 84.70L305.70 79.70" stroke="#00ff00" stroke-width="1.15" fill="none"/>
<text transform="translate(248.1,92.20) scale(1,1.035)" font-size="29" text-anchor="end">n = 3</text>
<line x1="265.7" y1="111.6" x2="340.9" y2="111.6" stroke="#0000ff" stroke-width="1.6" stroke-dasharray="1.7 2.15"/>
<path d="M300.60 111.60H305.80M303.20 109.00V114.20" stroke="#0000ff" stroke-width="1.35" fill="none"/><path d="M300.60 109.00L305.80 114.20M300.60 114.20L305.80 109.00" stroke="#0000ff" stroke-width="1.35" fill="none"/>
<text transform="translate(248.1,121.60) scale(1,1.035)" font-size="29" text-anchor="end">n = 4</text>
<line x1="265.7" y1="140.9" x2="340.9" y2="140.9" stroke="#ff00ff" stroke-width="1.4" stroke-dasharray="1.0 0.95"/>
<rect x="300.65" y="138.35" width="5.10" height="5.10" stroke="#ff00ff" stroke-width="1.25" fill="none"/><rect x="302.60" y="140.30" width="1.2" height="1.2" fill="#ff00ff"/>
<text transform="translate(248.1,150.90) scale(1,1.035)" font-size="29" text-anchor="end">n = 5</text>
<rect x="143.30" y="33.65" width="634.20" height="413.85" fill="none" stroke="#000" stroke-width="1.25"/>
<text transform="translate(125.5,456.60) scale(1,1.035)" font-size="29" text-anchor="end">0</text>
<text transform="translate(125.5,401.42) scale(1,1.035)" font-size="29" text-anchor="end">0.2</text>
<text transform="translate(125.5,346.24) scale(1,1.035)" font-size="29" text-anchor="end">0.4</text>
<text transform="translate(125.5,291.06) scale(1,1.035)" font-size="29" text-anchor="end">0.6</text>
<text transform="translate(125.5,235.88) scale(1,1.035)" font-size="29" text-anchor="end">0.8</text>
<text transform="translate(125.5,180.70) scale(1,1.035)" font-size="29" text-anchor="end">1</text>
<text transform="translate(125.5,125.52) scale(1,1.035)" font-size="29" text-anchor="end">1.2</text>
<text transform="translate(125.5,70.34) scale(1,1.035)" font-size="29" text-anchor="end">1.4</text>
<text transform="translate(146.80,486.4) scale(1,1.035)" font-size="29" text-anchor="middle">0</text>
<text transform="translate(273.64,486.4) scale(1,1.035)" font-size="29" text-anchor="middle">0.02</text>
<text transform="translate(400.48,486.4) scale(1,1.035)" font-size="29" text-anchor="middle">0.04</text>
<text transform="translate(527.32,486.4) scale(1,1.035)" font-size="29" text-anchor="middle">0.06</text>
<text transform="translate(654.16,486.4) scale(1,1.035)" font-size="29" text-anchor="middle">0.08</text>
<text transform="translate(781.00,486.4) scale(1,1.035)" font-size="29" text-anchor="middle">0.1</text>
<text transform="translate(461,531.8) scale(1,1.058)" font-size="33.8" text-anchor="middle">1/N</text>
<text transform="translate(35,240.4) rotate(-90)" font-size="33.8" text-anchor="middle">Spread in ES levels</text>
<text transform="translate(750.4,73.9) scale(0.965,1)" font-size="38" text-anchor="middle">(a)</text>
<rect x="86.93" y="67.10" width="5.33" height="5.24" fill="#fff"/><rect x="95.26" y="67.10" width="5.59" height="5.24" fill="#fff"/>
<rect x="86.93" y="122.28" width="5.33" height="5.24" fill="#fff"/><rect x="95.26" y="122.28" width="5.59" height="5.24" fill="#fff"/>
<rect x="111.12" y="177.46" width="5.33" height="5.24" fill="#fff"/><rect x="119.45" y="177.46" width="5.59" height="5.24" fill="#fff"/>
<rect x="786.77" y="482.86" width="5.33" height="5.24" fill="#fff"/><rect x="795.11" y="482.86" width="5.59" height="5.24" fill="#fff"/>
<rect x="436.73" y="527.83" width="6.25" height="5.67" fill="#fff"/><rect x="446.41" y="527.83" width="6.55" height="5.67" fill="#fff"/>
</svg>
</body></html>
